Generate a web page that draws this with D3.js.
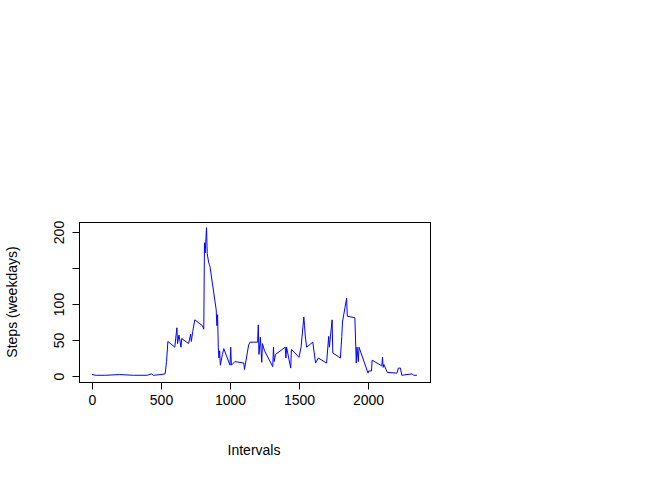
<!DOCTYPE html>
<html><head><meta charset="utf-8">
<script src="https://d3js.org/d3.v7.min.js"></script>
<style>body{margin:0;background:#fff}</style>
</head><body>
<script>
// weekday average steps per 5-minute interval (HHMM)
const intervals = [0,30,100,200,300,400,430,445,500,530,540,550,600,615,620,630,645,650,700,715,720,730,745,800,810,815,820,830,835,845,850,855,900,905,910,915,920,925,930,945,955,1000,1005,1010,1035,1100,1105,1135,1145,1200,1205,1210,1220,1230,1235,1250,1310,1315,1320,1330,1400,1405,1410,1440,1445,1500,1515,1535,1540,1545,1555,1600,1620,1640,1700,1715,1720,1740,1745,1800,1810,1815,1845,1850,1905,1915,1920,1930,1935,2000,2005,2025,2030,2100,2105,2110,2115,2140,2210,2220,2235,2245,2320,2330,2355];
const steps = [2,1,1,2,1,1,3,1,2,3,20,48,40,67,45,57,40,52,45,58,48,62,78,70,65,185,171,206,170,158,155,152,92,70,85,40,25,35,15,30,38,15,40,15,20,18,9,43,47,47,71,30,54,19,45,35,13,40,20,30,40,25,40,11,37,26,40,82,70,57,40,47,18,25,18,55,40,78,32,25,55,75,108,83,81,18,40,20,40,4,7,7,22,14,26,12,16,5,4,11,11,1,3,1,1];
const xTicks = [0,500,1000,1500,2000];
const yTicks = [0,50,100,150,200];
const yLabels = [0,50,100,200];

const data = intervals.map((d,i)=>({x:d,y:steps[i]}));
const svg = d3.select("body").append("svg").attr("width",672).attr("height",480)
  .style("font-family","Liberation Sans, Arial, sans-serif");

const x = d3.scaleLinear().domain([0,2000]).range([92,368]);
const y = d3.scaleLinear().domain([0,200]).range([376,232]);

svg.append("rect").attr("x",79.5).attr("y",222.5).attr("width",351).attr("height",160)
  .attr("fill","none").attr("stroke","#000");

svg.append("path").datum(data)
  .attr("fill","none").attr("stroke","#0000ff").attr("stroke-width",1)
  .attr("d",d3.line().x(d=>x(d.x)).y(d=>y(d.y)));

const xa = svg.append("g").attr("transform","translate(0,382.5)")
  .call(d3.axisBottom(x).tickValues(xTicks).tickSize(7).tickPadding(6).tickFormat(d3.format("d")));
xa.select(".domain").attr("d",`M${x(0)},0H${x(2000)}`);
xa.selectAll("text").attr("font-size",14).attr("fill","#000");

const ya = svg.append("g").attr("transform","translate(79.5,0)")
  .call(d3.axisLeft(y).tickValues(yTicks).tickSize(7)
    .tickFormat(d => yLabels.includes(d) ? d : ""));
ya.select(".domain").attr("d",`M0,${y(0)}V${y(200)}`);
ya.selectAll("text").attr("font-size",14).attr("fill","#000")
  .attr("text-anchor","middle").attr("dy",0).attr("x",0).attr("y",0)
  .attr("transform","translate(-16,0) rotate(-90)");

svg.append("text").attr("x",254).attr("y",455).attr("text-anchor","middle")
  .attr("font-size",14).text("Intervals");
svg.append("text").attr("transform","translate(17,302) rotate(-90)")
  .attr("text-anchor","middle").attr("font-size",14).text("Steps (weekdays)");
</script>
</body></html>
